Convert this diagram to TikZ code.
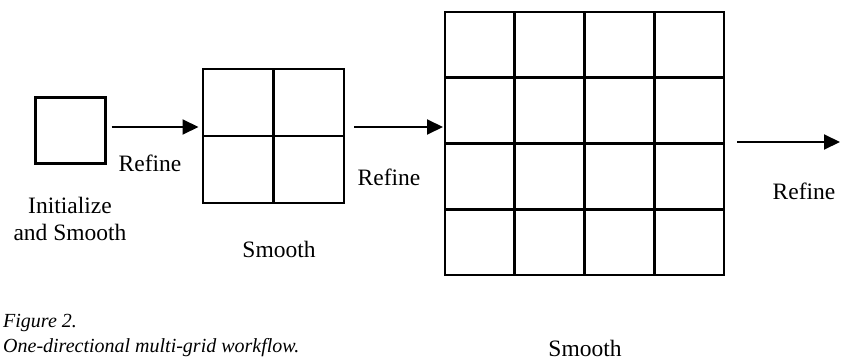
\documentclass[tikz,border=0pt]{standalone}
\usepackage{fontspec}
\setmainfont{Liberation Serif}
\usetikzlibrary{arrows.meta,calc}
\begin{document}
\begin{tikzpicture}[x=1pt,y=-1pt,
  cellbox/.style={draw,line width=2.8pt,minimum width=70pt,minimum height=66pt,inner sep=0pt,outer sep=0pt},
  flow/.style={line width=2pt,-{Triangle[length=16pt,width=15pt]}},
  lbl/.style={font=\fontsize{23.5}{28}\selectfont,inner sep=0pt,anchor=base},
  captext/.style={font=\fontsize{20}{24}\selectfont\itshape,inner sep=0pt,anchor=base west}]
  \useasboundingbox (0,0) rectangle (841,361);
  % coarse level: a single cell
  \node[cellbox] (s0) at (70.5,130.5) {};
  % 2x2 level
  \node[cellbox,minimum width=141pt,minimum height=134pt] (g1) at (273.5,136) {};
  \draw[line width=2.8pt] (g1.north) -- (g1.south) (g1.west) -- (g1.east);
  % 4x4 level
  \node[cellbox,minimum width=279pt,minimum height=263pt] (g2) at (584.5,143.5) {};
  \foreach \i in {1,2,3}{
    \draw[line width=2.8pt] ($(g2.north west)!\i/4!(g2.north east)$) -- ($(g2.south west)!\i/4!(g2.south east)$);
    \draw[line width=2.8pt] ($(g2.north west)!\i/4!(g2.south west)$) -- ($(g2.north east)!\i/4!(g2.south east)$);
  }
  % refinement arrows
  \draw[flow] (s0.east) ++(6,-3.5) -- ++(87,0);
  \draw[flow] (g1.east) ++(10,-9) -- ++(89,0);
  \draw[flow] (g2.east) ++(13,-1.5) -- ++(103,0);
  % labels
  \node[lbl] (r1) at (150,171) {Refine};
  \node[lbl] (r2) at (389,185) {Refine};
  \node[lbl] (r3) at (804,199) {Refine};
  \node[lbl] (i0) at (70,213) {Initialize};
  \node[lbl] (i1) at (70,240) {and Smooth};
  \node[lbl] (m1) at (279,257) {Smooth};
  \node[lbl] (m2) at (585,356) {Smooth};
  % caption
  \node[captext] (c1) at (3,327) {Figure 2.};
  \node[captext] (c2) at (3,352) {One-directional multi-grid workflow.};
\end{tikzpicture}
\end{document}
